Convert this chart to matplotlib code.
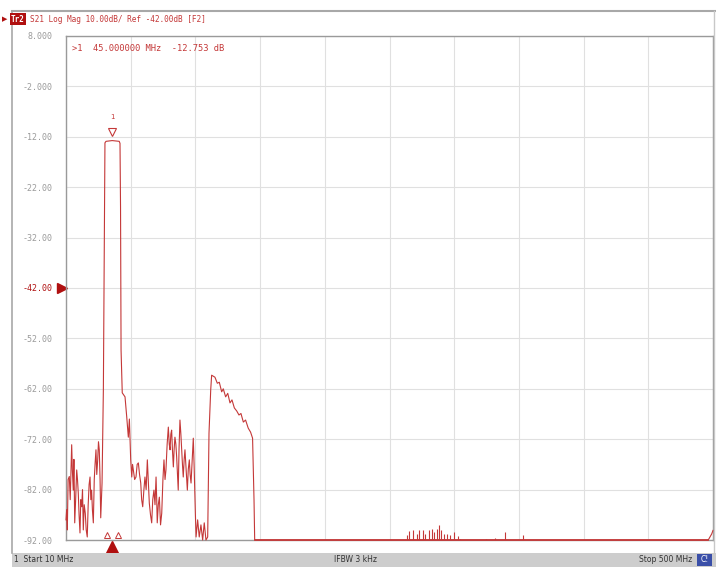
import matplotlib
matplotlib.use("Agg")
import matplotlib.pyplot as plt
from matplotlib.lines import Line2D
from matplotlib.patches import Rectangle

# trace S21 (MHz, dB)
freq = [10.0, 10.5, 11.0, 11.6, 12.5, 13.2, 14.3, 14.8, 15.5, 16.0, 16.6, 17.3,
        18.1, 18.7, 19.3, 19.9, 20.6, 21.2, 21.9, 22.5, 23.1, 23.8, 24.6, 25.3,
        26.1, 26.8, 27.5, 28.2, 28.8, 29.4, 30.0, 30.7, 31.4, 32.0, 32.7, 33.3,
        34.0, 34.6, 35.2, 35.8, 36.3, 37.3, 38.3, 39.5, 40.3, 45.0, 50.3, 50.9,
        51.3, 51.7, 52.6, 54.7, 56.0, 57.2, 58.0, 59.0, 59.8, 60.4, 61.0, 62.0,
        63.0, 63.9, 64.8, 65.7, 66.6, 67.3, 68.1, 69.0, 69.8, 70.7, 71.6, 72.3,
        73.1, 74.0, 74.9, 75.7, 76.6, 77.4, 78.2, 78.7, 79.1, 79.9, 80.7, 81.6,
        82.5, 83.4, 84.2, 85.0, 85.7, 86.6, 87.5, 88.2, 88.8, 89.4, 90.0, 90.6,
        91.3, 91.9, 92.5, 93.2, 93.8, 94.4, 95.0, 95.6, 96.3, 97.0, 97.6, 98.2,
        98.8, 99.5, 100.1, 101.0, 101.9, 102.6, 103.4, 104.0, 104.7, 105.6, 106.4,
        107.0, 107.5, 108.0, 108.5, 109.7, 110.9, 112.2, 113.5, 114.7, 116.0,
        117.3, 118.3, 119.6, 120.3, 122.8, 124.6, 126.1, 127.9, 129.1, 130.9,
        132.5, 134.2, 135.7, 137.5, 139.3, 141.0, 142.5, 144.3, 146.0, 148.0,
        149.8, 151.3, 152.4, 152.9, 496.4, 499.0, 500.0]
s21 = [-88.0, -86.0, -90.0, -80.0, -79.4, -84.0, -73.1, -78.0, -82.1, -76.0,
       -88.6, -84.0, -78.1, -80.0, -82.7, -87.0, -90.6, -84.0, -85.4, -82.0,
       -90.0, -85.0, -86.7, -90.0, -91.4, -85.0, -81.0, -79.5, -84.0, -82.1,
       -86.0, -88.6, -80.0, -77.0, -74.1, -79.0, -76.1, -72.5, -74.1, -80.0,
       -87.6, -80.7, -62.2, -13.2, -12.9, -12.75, -12.9, -13.3, -25.9, -54.3,
       -62.8, -63.6, -67.6, -71.6, -68.0, -76.1, -79.5, -77.0, -78.1, -80.0,
       -79.5, -77.0, -76.7, -79.0, -80.7, -84.0, -85.4, -82.0, -79.5, -82.0,
       -76.1, -80.0, -84.7, -87.0, -88.6, -84.0, -82.1, -85.0, -79.5, -84.0,
       -88.6, -85.0, -83.5, -89.0, -86.7, -80.0, -76.1, -80.0, -78.1, -73.0,
       -69.6, -73.0, -74.1, -71.0, -70.2, -74.0, -77.5, -74.0, -71.6, -73.0,
       -75.5, -79.0, -82.1, -74.0, -68.2, -71.0, -74.1, -77.0, -79.5, -76.0,
       -74.1, -78.0, -82.1, -78.0, -76.1, -79.0, -80.7, -76.0, -71.8, -77.0,
       -82.1, -87.0, -91.4, -88.0, -91.4, -89.0, -92.0, -88.6, -92.0, -91.4,
       -70.8, -62.2, -59.3, -59.7, -60.9, -60.7, -62.6, -62.0, -63.6, -62.9,
       -64.8, -64.2, -65.8, -66.4, -67.2, -66.9, -68.6, -68.2, -69.8, -70.6,
       -71.8, -84.1, -92.0, -92.0, -90.8, -90.1]

# small spurs sitting on the -92 dB floor
spur_freq = [268.0, 270.0, 273.0, 275.5, 277.5, 280.0, 282.0, 285.0, 287.0, 289.0,
             291.0, 292.3, 294.0, 296.0, 298.5, 301.0, 304.0, 306.5, 308.5,
             328.0, 335.0, 342.5, 356.3]
spur_db = [-91.0, -90.3, -90.1, -90.8, -90.0, -90.1, -90.8, -90.1, -89.8, -90.5,
           -89.8, -89.0, -90.0, -90.8, -90.8, -91.0, -90.5, -91.3, -91.8,
           -91.8, -91.6, -90.5, -91.0]

yticks = [8, -2, -12, -22, -32, -42, -52, -62, -72, -82, -92]
ytick_labels = ["8.000", "-2.000", "-12.00", "-22.00", "-32.00", "-42.00",
                "-52.00", "-62.00", "-72.00", "-82.00", "-92.00"]
marker_freq = 45.0
marker_db = -12.753

RED = "#c43838"
DARK_RED = "#b01010"
W, H = 716, 567

fig = plt.figure(figsize=(W / 100, H / 100), dpi=100)
fig.patch.set_facecolor("white")
ax = fig.add_axes([66 / W, 1 - 540 / H, (713 - 66) / W, (540 - 36) / H])

ax.plot(freq, s21, color=RED, lw=0.8, clip_on=False, zorder=3)
ax.plot([152.9, 496.4], [-92, -92], color=RED, lw=1.2, clip_on=False, zorder=3)
ax.vlines(spur_freq, -92, spur_db, color=RED, lw=0.8, zorder=3)

ax.set_xlim(10, 500)
ax.set_ylim(-92, 8)
ax.set_xticks([10 + 49 * k for k in range(11)])
ax.set_xticklabels([])
ax.set_yticks(yticks)
ax.set_yticklabels(ytick_labels, family="DejaVu Sans Mono", fontsize=6)
for lbl in ax.get_yticklabels():
    lbl.set_color(DARK_RED if lbl.get_text() == "-42.00" else "#9a9a9a")
ax.tick_params(length=0, pad=10)
ax.grid(True, color="#e0e0e0", lw=0.8)
ax.set_axisbelow(True)
for sp in ax.spines.values():
    sp.set_color("#9a9a9a")
    sp.set_linewidth(1.0)

# reference level arrow
ax.plot([-0.006], [-42], marker=">", ms=7, color=DARK_RED, clip_on=False,
        transform=ax.get_yaxis_transform())

# marker 1
ax.plot([marker_freq], [-11.0], marker="v", ms=6, mfc="white", mec=RED, mew=0.8,
        zorder=4)
ax.text(marker_freq, -8.6, "1", color=RED, fontsize=5, ha="center", va="bottom")
ax.plot([marker_freq], [-93.3], marker="^", ms=8, color=DARK_RED, clip_on=False,
        zorder=4)
ax.plot([40.8, 49.6], [-91.0, -91.0], ls="none", marker="^", ms=5, mfc="white",
        mec=RED, mew=0.7, clip_on=False, zorder=4)
ax.text(0.01, 0.985, ">1  45.000000 MHz  %.3f dB" % marker_db, transform=ax.transAxes,
        color=RED, fontsize=6.3, family="DejaVu Sans Mono", va="top", ha="left")

# window frame, header and status bar
fig.add_artist(Line2D([12 / W, 1], [1 - 11 / H] * 2, color="#a8a8a8", lw=1.5))
fig.add_artist(Line2D([12 / W] * 2, [14 / H, 1 - 11 / H], color="#a8a8a8", lw=1.2))
fig.add_artist(Line2D([714 / W] * 2, [14 / H, 1 - 11 / H], color="#c8c8c8", lw=1.0))
fig.add_artist(Rectangle((12 / W, 0), 1, 14 / H, color="#cdcdcd", lw=0))
fig.add_artist(Rectangle((697 / W, 1 / H), 15 / W, 12 / H, color="#3a4fa8", lw=0))

fig.text(2 / W, 1 - 19 / H, "\u25b6", color=DARK_RED, fontsize=5, va="center")
fig.text(11 / W, 1 - 19 / H, "Tr2", color="white", fontsize=5.5, va="center",
         family="DejaVu Sans Mono", fontweight="bold",
         bbox=dict(boxstyle="square,pad=0.15", fc=DARK_RED, ec="none"))
fig.text(30 / W, 1 - 19 / H, "S21 Log Mag 10.00dB/ Ref -42.00dB [F2]",
         color=RED, fontsize=5.6, va="center", family="DejaVu Sans Mono")

fig.text(14 / W, 7 / H, "1  Start 10 MHz", fontsize=5.5, va="center", color="#333333")
fig.text(355 / W, 7 / H, "IFBW 3 kHz", fontsize=5.5, va="center", ha="center",
         color="#333333")
fig.text(692 / W, 7 / H, "Stop 500 MHz", fontsize=5.5, va="center", ha="right",
         color="#333333")
fig.text(704.5 / W, 7 / H, "C!", fontsize=5.5, va="center", ha="center", color="white")

fig.savefig("out.png", dpi=100, facecolor="white")
